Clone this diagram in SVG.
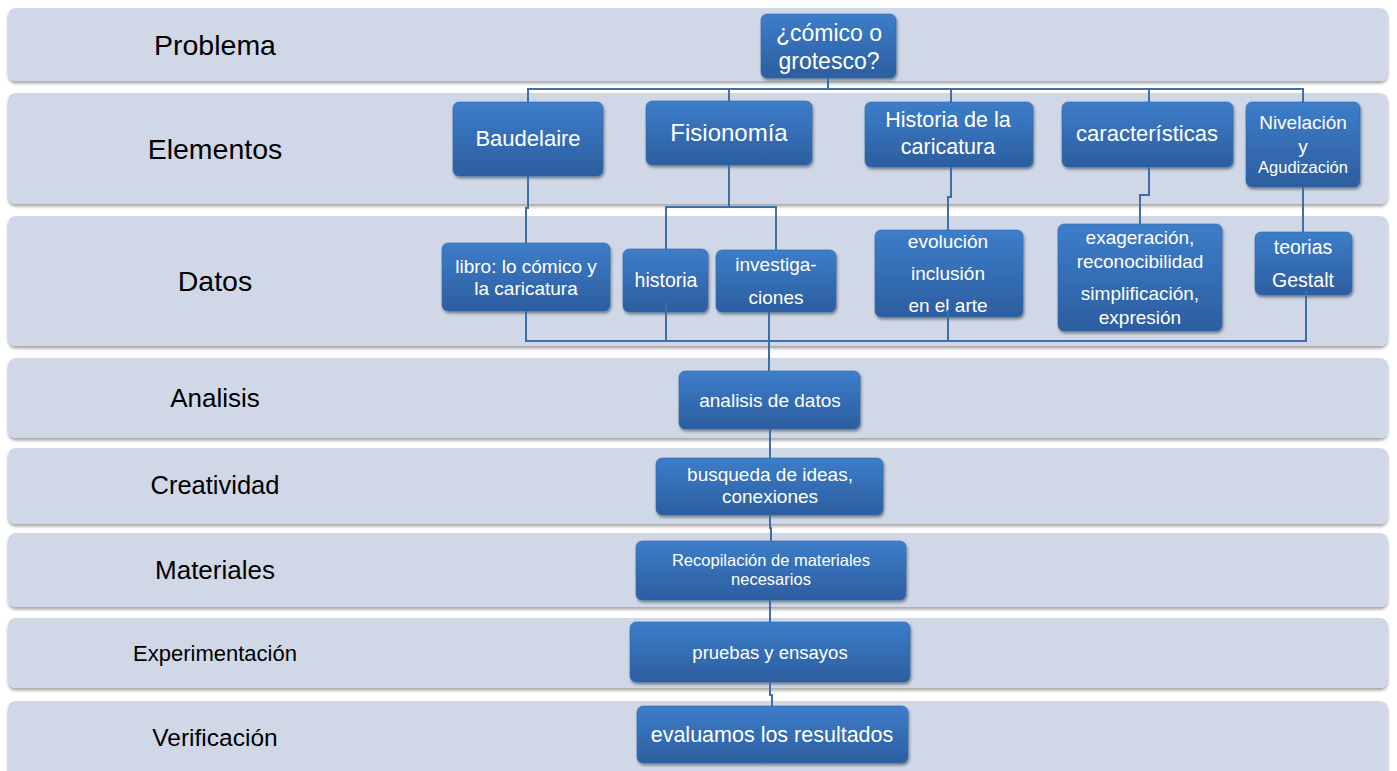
<svg xmlns="http://www.w3.org/2000/svg" width="1397" height="771" viewBox="0 0 1397 771">
<defs>
<linearGradient id="blue" x1="0" y1="0" x2="0" y2="1">
<stop offset="0" stop-color="#3D7DCA"/>
<stop offset="1" stop-color="#2C5E9F"/>
</linearGradient>
<filter id="sh" x="-10%" y="-10%" width="125%" height="140%">
<feDropShadow dx="1" dy="2" stdDeviation="1.8" flood-color="#000" flood-opacity="0.45"/>
</filter>
<filter id="bsh" x="-2%" y="-10%" width="104%" height="130%">
<feDropShadow dx="0" dy="2.5" stdDeviation="1.5" flood-color="#000" flood-opacity="0.35"/>
</filter>
<style>
.band{fill:#D0D8E8;filter:url(#bsh)}
.lab{font-family:"Liberation Sans",Arial,sans-serif;fill:#000;text-anchor:middle}
.box{fill:url(#blue);stroke:#3068AA;stroke-width:0.6;filter:url(#sh)}
.t{font-family:"Liberation Sans",Arial,sans-serif;fill:#fff;text-anchor:middle}
.c{fill:none;stroke:#3F6FA9;stroke-width:2}
</style>
</defs>
<rect width="1397" height="771" fill="#fff"/>
<g id="bands">
<rect class="band" x="8" y="8" width="1380" height="73" rx="8"/>
<rect class="band" x="8" y="93" width="1380" height="111" rx="8"/>
<rect class="band" x="8" y="216" width="1380" height="130" rx="8"/>
<rect class="band" x="8" y="358" width="1380" height="80" rx="8"/>
<rect class="band" x="8" y="448" width="1380" height="76" rx="8"/>
<rect class="band" x="8" y="533" width="1380" height="74" rx="8"/>
<rect class="band" x="8" y="618" width="1380" height="70" rx="8"/>
<rect class="band" x="8" y="701" width="1380" height="84" rx="8"/>
<text class="lab" x="215" y="55" font-size="28.5">Problema</text>
<text class="lab" x="215" y="159" font-size="28.5">Elementos</text>
<text class="lab" x="215" y="291" font-size="28.5">Datos</text>
<text class="lab" x="215" y="407" font-size="26">Analisis</text>
<text class="lab" x="215" y="494" font-size="25.5">Creatividad</text>
<text class="lab" x="215" y="579" font-size="26">Materiales</text>
<text class="lab" x="215" y="661" font-size="22">Experimentación</text>
<text class="lab" x="215" y="746" font-size="24.5">Verificación</text>
</g>
<g id="nodes">
<g id="n-comico"><rect class="box" x="761" y="14" width="135" height="64" rx="6"/><text class="t" font-size="23"><tspan x="829" y="41">¿cómico o</tspan><tspan x="829" y="69">grotesco?</tspan></text></g>
<g id="n-baudelaire"><rect class="box" x="453" y="102" width="150" height="74" rx="6"/><text class="t" x="528" y="146" font-size="22">Baudelaire</text></g>
<g id="n-fisionomia"><rect class="box" x="646" y="101" width="166" height="64" rx="6"/><text class="t" x="729" y="141" font-size="24">Fisionomía</text></g>
<g id="n-historia-car"><rect class="box" x="865" y="102" width="168" height="65" rx="6"/><text class="t" font-size="21.5"><tspan x="948" y="127">Historia de la</tspan><tspan x="948" y="154">caricatura</tspan></text></g>
<g id="n-caracteristicas"><rect class="box" x="1062" y="102" width="171" height="65" rx="6"/><text class="t" x="1147" y="141" font-size="22">características</text></g>
<g id="n-nivelacion"><rect class="box" x="1246" y="102" width="114" height="85" rx="6"/><text class="t"><tspan x="1303" y="129" font-size="19">Nivelación</tspan><tspan x="1303" y="153" font-size="19">y</tspan><tspan x="1303" y="173" font-size="16.5">Agudización</tspan></text></g>
<g id="n-libro"><rect class="box" x="442" y="243" width="168" height="68" rx="6"/><text class="t" font-size="19"><tspan x="526" y="273">libro: lo cómico y</tspan><tspan x="526" y="295">la caricatura</tspan></text></g>
<g id="n-historia"><rect class="box" x="623" y="249" width="85" height="63" rx="6"/><text class="t" x="666" y="287" font-size="19.5">historia</text></g>
<g id="n-investigaciones"><rect class="box" x="716" y="250" width="120" height="62" rx="6"/><text class="t" font-size="19"><tspan x="776" y="271">investiga-</tspan><tspan x="776" y="304">ciones</tspan></text></g>
<g id="n-evolucion"><rect class="box" x="875" y="230" width="148" height="87" rx="6"/><text class="t" font-size="19"><tspan x="948" y="248">evolución</tspan><tspan x="948" y="280">inclusión</tspan><tspan x="948" y="312">en el arte</tspan></text></g>
<g id="n-exageracion"><rect class="box" x="1058" y="224" width="164" height="107" rx="6"/><text class="t" font-size="19"><tspan x="1140" y="244">exageración,</tspan><tspan x="1140" y="268">reconocibilidad</tspan><tspan x="1140" y="300">simplificación,</tspan><tspan x="1140" y="324">expresión</tspan></text></g>
<g id="n-teorias"><rect class="box" x="1255" y="232" width="97" height="63" rx="6"/><text class="t" font-size="19.5"><tspan x="1303" y="254">teorias</tspan><tspan x="1303" y="287">Gestalt</tspan></text></g>
<g id="n-analisis"><rect class="box" x="679" y="371" width="181" height="58" rx="6"/><text class="t" x="770" y="407" font-size="19">analisis de datos</text></g>
<g id="n-busqueda"><rect class="box" x="656" y="458" width="227" height="57" rx="6"/><text class="t" font-size="19"><tspan x="770" y="481">busqueda  de ideas,</tspan><tspan x="770" y="503">conexiones</tspan></text></g>
<g id="n-recopilacion"><rect class="box" x="636" y="541" width="270" height="59" rx="6"/><text class="t" font-size="16.5"><tspan x="771" y="566">Recopilación de materiales</tspan><tspan x="771" y="585">necesarios</tspan></text></g>
<g id="n-pruebas"><rect class="box" x="630" y="622" width="280" height="60" rx="6"/><text class="t" x="770" y="659" font-size="18.5">pruebas y ensayos</text></g>
<g id="n-evaluamos"><rect class="box" x="637" y="706" width="271" height="57" rx="6"/><text class="t" x="772" y="742" font-size="21.5">evaluamos los resultados</text></g>
</g>
<g id="connectors">
<path class="c" d="M828,78 V89"/>
<path class="c" d="M528,102 V89 H1303 V102"/>
<path class="c" d="M729,89 V101"/>
<path class="c" d="M951,89 V102"/>
<path class="c" d="M1149,89 V102"/>
<path class="c" d="M528,176 V208 H526 V243"/>
<path class="c" d="M729,165 V207 M666,249 V207 H776 V250"/>
<path class="c" d="M951,167 V197 H948 V230"/>
<path class="c" d="M1149,167 V195 H1140 V224"/>
<path class="c" d="M1303,187 V232"/>
<path class="c" d="M526,311 V341 H1306 V290"/>
<path class="c" d="M666,303 V341"/>
<path class="c" d="M948,310 V341"/>
<path class="c" d="M769,312 V371"/>
<path class="c" d="M770,429 V458"/>
<path class="c" d="M770,515 V528 H771 V541"/>
<path class="c" d="M770,600 V622"/>
<path class="c" d="M770,682 V695 H772 V706"/>
</g>
</svg>
